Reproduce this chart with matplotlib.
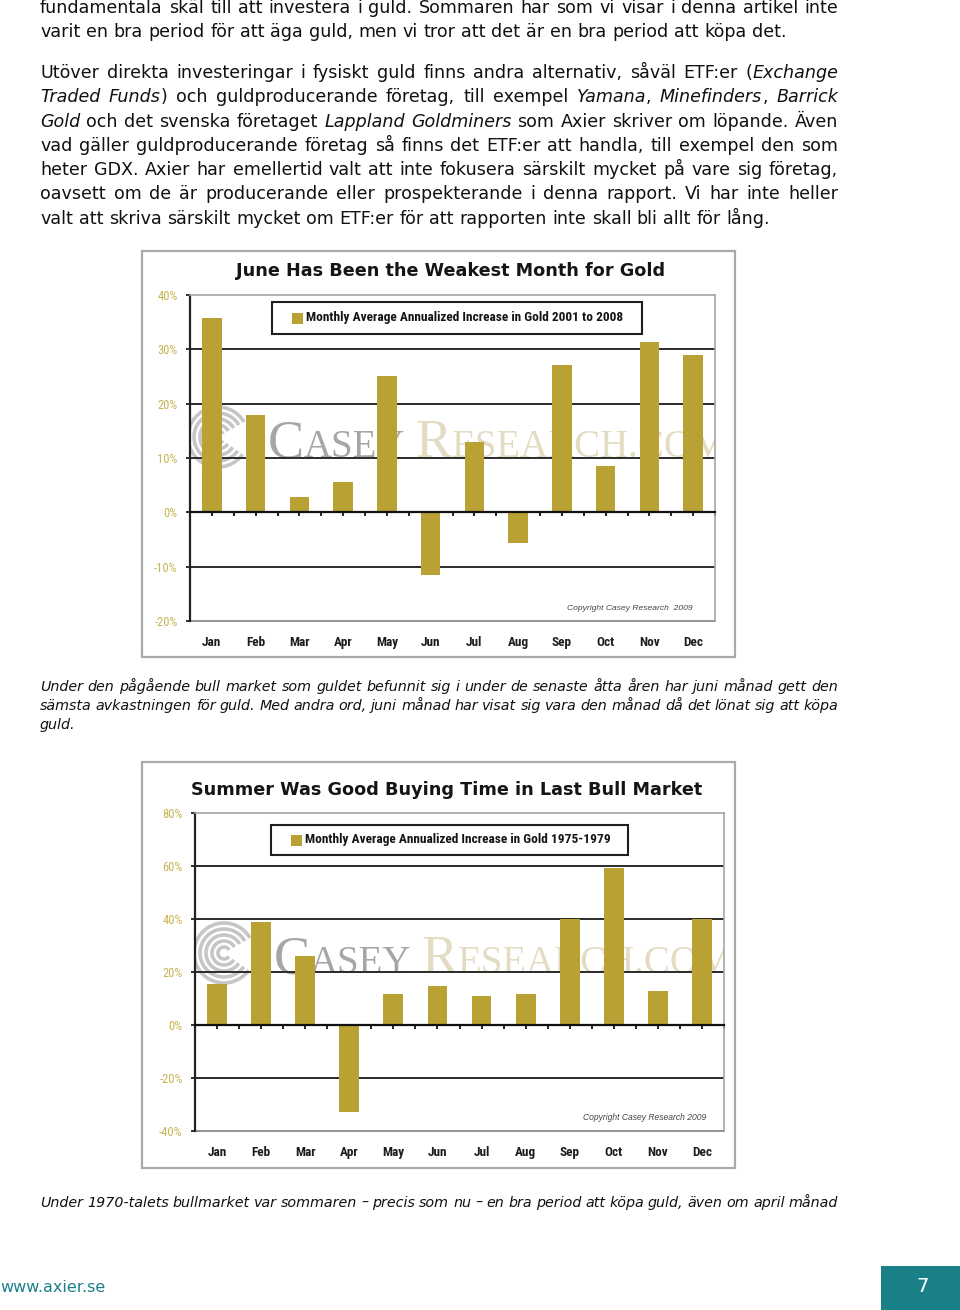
import numpy as np
import matplotlib
matplotlib.use("Agg")
import matplotlib.pyplot as plt
from matplotlib import font_manager
from matplotlib.patches import Rectangle, Arc

# ── data ──────────────────────────────────────────────────────────────────────
MONTHS = ["Jan", "Feb", "Mar", "Apr", "May", "Jun",
          "Jul", "Aug", "Sep", "Oct", "Nov", "Dec"]
GAIN_2001_2008 = [35.8, 17.9, 2.9, 5.6, 25.1, -11.5, 13.0, -5.7, 27.2, 8.5, 31.4, 29.0]
GAIN_1975_1979 = [15.4, 38.8, 26.2, -32.9, 11.6, 14.6, 11.1, 11.6, 40.1, 59.2, 12.7, 40.1]
TICKS_1 = [-20, -10, 0, 10, 20, 30, 40]
TICKS_2 = [-40, -20, 0, 20, 40, 60, 80]

TITLE_1 = "June Has Been the Weakest Month for Gold"
TITLE_2 = "Summer Was Good Buying Time in Last Bull Market"
LEGEND_1 = "Monthly Average Annualized Increase in Gold 2001 to 2008"
LEGEND_2 = "Monthly Average Annualized Increase in Gold 1975-1979"

# page text, '*' toggles italic
PARA_1 = ["fundamentala skäl till att investera i guld. Sommaren har som vi visar i denna artikel inte",
          "varit en bra period för att äga guld, men vi tror att det är en bra period att köpa det."]
PARA_2 = ["Utöver direkta investeringar i fysiskt guld finns andra alternativ, såväl ETF:er (*Exchange*",
          "*Traded Funds*) och guldproducerande företag, till exempel *Yamana*, *Minefinders*, *Barrick*",
          "*Gold* och det svenska företaget *Lappland Goldminers* som Axier skriver om löpande. Även",
          "vad gäller guldproducerande företag så finns det ETF:er att handla, till exempel den som",
          "heter GDX. Axier har emellertid valt att inte fokusera särskilt mycket på vare sig företag,",
          "oavsett om de är producerande eller prospekterande i denna rapport. Vi har inte heller",
          "valt att skriva särskilt mycket om ETF:er för att rapporten inte skall bli allt för lång."]
CAPTION_1 = ["*Under den pågående bull market som guldet befunnit sig i under de senaste åtta åren har juni månad gett den",
             "*sämsta avkastningen för guld. Med andra ord, juni månad har visat sig vara den månad då det lönat sig att köpa",
             "*guld."]
CAPTION_2 = ["*Under 1970-talets bullmarket var sommaren – precis som nu – en bra period att köpa guld, även om april månad"]

GOLD = "#b9a133"
TICK_GOLD = "#c8b452"
TEAL = "#1a8088"

avail = {f.name for f in font_manager.fontManager.ttflist}
NARROW = next((n for n in ["Liberation Sans Narrow", "Roboto Condensed", "DejaVu Sans"] if n in avail),
              "DejaVu Sans")
SERIF = "Liberation Serif" if "Liberation Serif" in avail else "DejaVu Serif"
ARIAL = "Liberation Sans" if "Liberation Sans" in avail else "DejaVu Sans"

fig = plt.figure(figsize=(9.6, 13.1), dpi=100)
fig.patch.set_facecolor("white")
renderer = fig.canvas.get_renderer()

# page layer in pixel coordinates (y down), behind the charts
page = fig.add_axes([0, 0, 1, 1], zorder=0)
page.set_xlim(0, 960); page.set_ylim(1310, 0); page.axis("off")
PX = page.transData


def text_width(s, **kw):
    t = page.text(0, 0, s, **kw)
    w = t.get_window_extent(renderer=renderer).width
    t.remove()
    return w


def advance(s, **kw):
    # ink width of s + bar minus the bar, close to the advance width
    return text_width(s + "|", **kw) - text_width("|", **kw)


def fit_size(s, width, **kw):
    return 10 * width / text_width(s, fontsize=10, **kw)


def parse(line):
    words, italic = [], False
    for w in line.split(" "):
        pieces = []
        for k, part in enumerate(w.split("*")):
            if k > 0:
                italic = not italic
            if part:
                pieces.append((part, italic))
        words.append(pieces)
    return words


def draw_line(line, y, size, justify, x0=40, x1=838, color="#111111"):
    words = parse(line)
    widths = [[advance(p, fontsize=size, style="italic" if it else "normal") for p, it in pieces]
              for pieces in words]
    total = sum(sum(w) for w in widths)
    if justify and len(words) > 1:
        gap = (x1 - x0 - total) / (len(words) - 1)
    else:
        gap = advance("a a", fontsize=size) - advance("aa", fontsize=size)
    x = x0
    for pieces, ws in zip(words, widths):
        for (p, it), w in zip(pieces, ws):
            page.text(x, y, p, fontsize=size, style="italic" if it else "normal",
                      color=color, ha="left", va="baseline")
            x += w
        x += gap


# ── body text ─────────────────────────────────────────────────────────────────
body = 10 * 742 / advance(PARA_1[1], fontsize=10)
for i, (line, yc) in enumerate(zip(PARA_1, [8, 32])):
    draw_line(line, yc + 5, body, justify=(i < len(PARA_1) - 1))
for i, (line, yc) in enumerate(zip(PARA_2, [73, 97, 122, 146, 170, 194, 219])):
    draw_line(line, yc + 5, body, justify=(i < len(PARA_2) - 1))

cap = min(body * 0.88, 10 * 792 / advance(CAPTION_1[0].replace("*", ""), fontsize=10, style="italic"))
for i, (line, yc) in enumerate(zip(CAPTION_1, [687, 706, 725])):
    draw_line(line, yc + 4, cap, justify=(i < len(CAPTION_1) - 1))
draw_line(CAPTION_2[0], 1203 + 4, cap, justify=True)

# footer
page.text(0, 1287, "www.axier.se", fontsize=11.5, color=TEAL, ha="left", va="center")
page.add_patch(Rectangle((881, 1266), 79, 44, facecolor=TEAL, edgecolor="none"))
page.text(923, 1287, "7", fontsize=14, color="white", ha="center", va="center")


# ── charts ────────────────────────────────────────────────────────────────────
def chart(box, plot, values, ticks, title, title_xy, title_w, legend, leg_box, leg_text_w,
          copy, copy_xy, copy_w, mark_xy):
    bx0, by0, bx1, by1 = box
    page.add_patch(Rectangle((bx0, by0), bx1 - bx0, by1 - by0, facecolor="white",
                             edgecolor="#a9a9a9", lw=1.6))
    page.text(*title_xy, title, fontsize=fit_size(title, title_w, fontweight="bold"),
              fontweight="bold", color="#151515", ha="center", va="center")

    px0, py0, px1, py1 = plot
    ax = fig.add_axes([px0 / 960, 1 - py1 / 1310, (px1 - px0) / 960, (py1 - py0) / 1310],
                      zorder=1)
    ax.set_facecolor("none")

    # watermark, clipped to the plot, behind grid and bars
    lx, ly = mark_xy
    for r in [6, 12, 18, 24, 30]:
        ax.add_patch(Arc((lx, ly), 2 * r, 2 * r, theta1=35, theta2=330, color="#b4b4b4",
                         lw=2.6, alpha=0.75, transform=PX, zorder=0.5))
    runs = [("C", 39, "#a6a6a6", 0), ("ASEY", 28, "#a6a6a6", 10),
            ("R", 39, "#e3dcc2", 0), ("ESEARCH.COM", 28, "#e3dcc2", 0)]
    x = lx + 50
    for s, fs, c, extra in runs:
        ax.text(x, ly + 20, s, fontsize=fs, family=SERIF, color=c, ha="left",
                va="baseline", transform=PX, zorder=0.5, clip_on=True)
        x += advance(s, fontsize=fs, family=SERIF) + extra

    xs = np.arange(len(MONTHS))
    for v in ticks[1:-1]:
        if v != 0:
            ax.axhline(v, color="#2a2a2a", lw=1.4, zorder=1)
    ax.bar(xs, values, width=0.45, color=GOLD, zorder=3)
    ax.set_xlim(-0.5, len(MONTHS) - 0.5)
    ax.set_ylim(ticks[0], ticks[-1])

    ax.spines["bottom"].set_position(("data", 0))
    ax.spines["bottom"].set_color("#111111"); ax.spines["bottom"].set_linewidth(1.6)
    ax.spines["bottom"].set_zorder(4)
    ax.spines["left"].set_color("#222222"); ax.spines["left"].set_linewidth(1.6)
    for s in ["top", "right"]:
        ax.spines[s].set_color("#a5a5a5"); ax.spines[s].set_linewidth(1.2)

    ax.set_xticks(np.arange(-0.5, len(MONTHS), 0.5))
    ax.tick_params(axis="x", direction="out", length=3, width=1.3, color="#111111",
                   labelbottom=False)
    ax.set_yticks(ticks, labels=[f"{v}%" for v in ticks])
    ax.tick_params(axis="y", direction="out", length=3, width=1.3, color="#222222",
                   pad=6, labelcolor=TICK_GOLD, labelsize=9)
    for lab in ax.get_yticklabels():
        lab.set_family(NARROW)

    sec = ax.secondary_xaxis("bottom")
    sec.set_ticks(xs, labels=MONTHS, fontsize=9.5, fontweight="bold", family=NARROW,
                  color="#1c1c1c")
    sec.tick_params(length=0, pad=11)
    sec.spines["bottom"].set_color("#8a8a8a"); sec.spines["bottom"].set_linewidth(1.3)

    # legend box
    lx0, ly0, lx1, ly1 = leg_box
    ax.add_patch(Rectangle((lx0, ly0), lx1 - lx0, ly1 - ly0, facecolor="white",
                           edgecolor="#1e1e1e", lw=1.5, transform=PX, zorder=5, clip_on=False))
    lyc = (ly0 + ly1) / 2
    ax.add_patch(Rectangle((lx0 + 20, lyc - 5.5), 11, 11, facecolor=GOLD, edgecolor="none",
                           transform=PX, zorder=6, clip_on=False))
    ax.text(lx0 + 34, lyc, legend, ha="left", va="center", color="#151515",
            fontweight="bold", family=NARROW, transform=PX, zorder=6,
            fontsize=fit_size(legend, leg_text_w, fontweight="bold", family=NARROW))

    ax.text(*copy_xy, copy, ha="center", va="center", style="italic", family=ARIAL,
            color="#444444", fontsize=fit_size(copy, copy_w, style="italic", family=ARIAL),
            transform=PX, zorder=6)
    return ax


ax1 = chart((142, 251, 735, 657), (190, 295, 715, 621), GAIN_2001_2008, TICKS_1,
            TITLE_1, (451, 271), 429, LEGEND_1, (272, 302, 642, 334), 319,
            "Copyright Casey Research  2009", (630, 608), 125, (218, 437))
ax2 = chart((142, 762, 735, 1168), (195, 813, 724, 1131), GAIN_1975_1979, TICKS_2,
            TITLE_2, (447, 790), 509, LEGEND_2, (271, 825, 628, 855), 306,
            "Copyright Casey Research 2009", (645, 1118), 124, (224, 953))

fig.savefig("out.png", dpi=100, facecolor="white")
